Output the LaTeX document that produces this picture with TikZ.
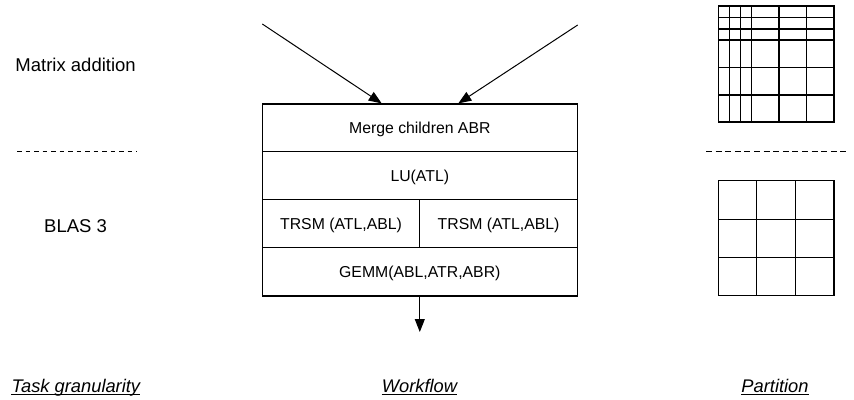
\documentclass[tikz,border=0pt]{standalone}
\usepackage{fontspec}
\setmainfont{Liberation Sans}
\usetikzlibrary{arrows.meta}
\begin{document}
\begin{tikzpicture}[x=1pt,y=-1pt,
  cell/.style={draw,line width=1.2pt,inner sep=0pt,minimum width=315pt,
    text height=11.3pt,text depth=0pt,font=\fontsize{15.8}{18}\selectfont},
  arr/.style={line width=1pt,-{Triangle[length=13pt,width=10pt]}},
  gl/.style={line width=1.5pt},
  dl/.style={line width=1pt,dash pattern=on 4.5pt off 4pt},
  lab/.style={anchor=base,inner sep=0pt,font=\fontsize{18.5}{22}\selectfont},
  ulab/.style={anchor=base,inner sep=0pt,font=\fontsize{18.3}{22}\selectfont\itshape}
]
\useasboundingbox (0,0) rectangle (854,399);

% workflow box
\node[cell,minimum height=47.7pt] (merge) at (419.8,127.85) {Merge children ABR};
\node[cell,minimum height=47.6pt] (lu) at (419.8,175.5) {LU(ATL)};
\node[cell,minimum width=157.5pt,minimum height=48.4pt] (trsml) at (341.05,223.5) {TRSM (ATL,ABL)};
\node[cell,minimum width=157.5pt,minimum height=48.4pt] (trsmr) at (498.55,223.5) {TRSM (ATL,ABL)};
\node[cell,minimum height=48.3pt] (gemm) at (419.8,271.85) {GEMM(ABL,ATR,ABR)};

% arrows
\coordinate (s1) at (262.3,24);
\coordinate (s2) at (577.7,25);
\coordinate (out) at (419.8,332);
\draw[arr] (s1) -- ([xshift=-38.1pt]merge.north);
\draw[arr] (s2) -- ([xshift=38.5pt]merge.north);
\draw[arr] (gemm.south) -- (out);

% left labels
\node[lab] (madd) at (75.6,71.7) {Matrix addition};
\node[lab] (blas) at (75.6,232.3) {BLAS 3};
\draw[dl] (17,151.7) -- (137,151.7);
\draw[dl,dash pattern=on 6pt off 3.6pt] (706,151) -- (850,151);

% top-right grid
\foreach \x in {729.3,740.3,751.3,779,806.3}
  \draw[gl] (\x,6) -- (\x,122);
\foreach \y in {17.7,29,40,67.3,95}
  \draw[gl] (718.3,\y) -- (834,\y);
\draw[gl] (718.3,6) rectangle (834,122);

% bottom-right grid
\foreach \x in {756.7,795.3}
  \draw[gl] (\x,180.7) -- (\x,295.7);
\foreach \y in {219.3,257.7}
  \draw[gl] (718.3,\y) -- (834,\y);
\draw[gl] (718.3,180.7) rectangle (834,295.7);

% bottom labels
\node[ulab] (tg) at (75.9,392.3) {Task granularity};
\node[ulab] (wf) at (419.5,392.3) {Workflow};
\node[ulab] (pt) at (775,392.3) {Partition};
\foreach \n in {tg,wf,pt}
  \draw[line width=1pt] ([yshift=-2.2pt]\n.base west) -- ([yshift=-2.2pt]\n.base east);
\end{tikzpicture}
\end{document}
